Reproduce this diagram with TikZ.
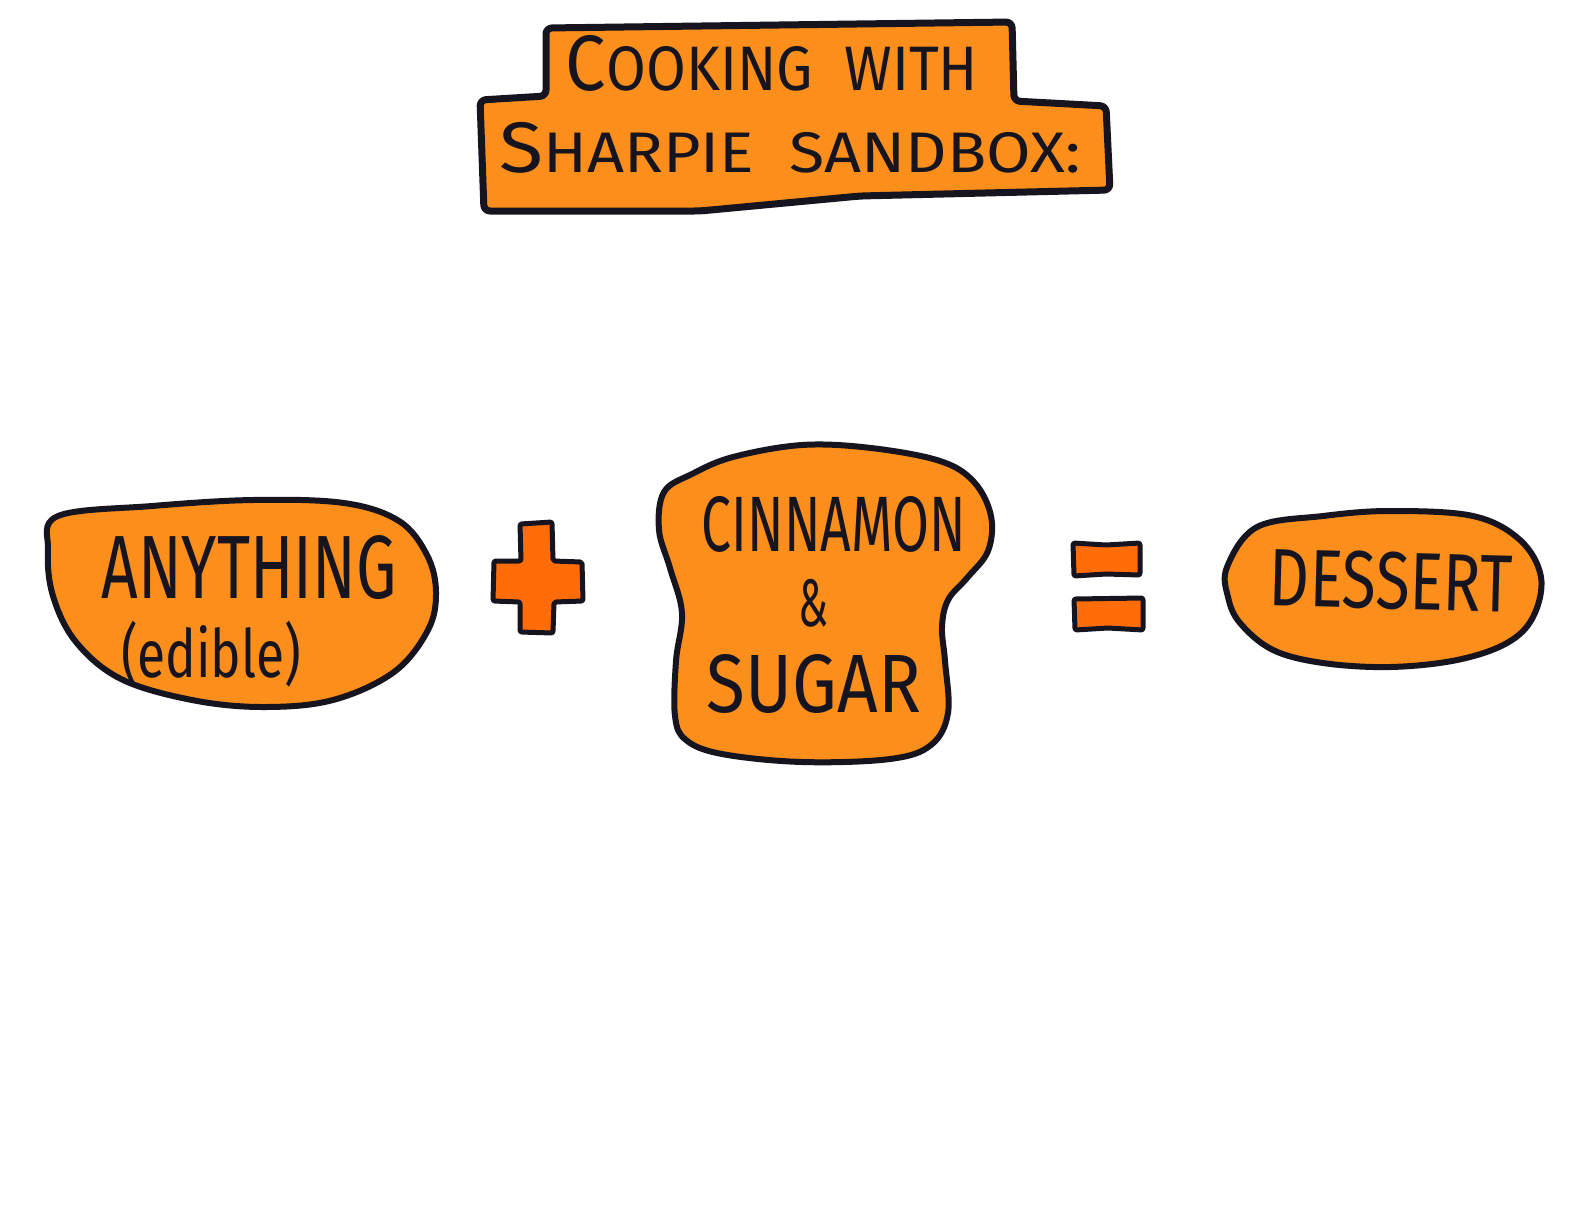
\documentclass[tikz,border=0pt]{standalone}
\usepackage{fontspec}
\setsansfont{Fira Sans}
\usepackage{graphicx}
\definecolor{blob}{RGB}{252,142,28}
\definecolor{sign}{RGB}{255,108,8}
\definecolor{ink}{RGB}{22,20,30}
\newcommand{\hand}[3]{\resizebox*{#1pt}{#2pt}{\sffamily #3}}

\begin{document}
\begin{tikzpicture}[x=1pt,y=-1pt]
        \tikzstyle{every node}=[inner sep=0pt, text=ink]
        \tikzstyle{blobline}=[draw=ink, line width=6pt, fill=blob, line join=round]
        \tikzstyle{signline}=[draw=ink, line width=5pt, fill=sign, line join=round, rounded corners=2pt]
        \useasboundingbox[fill=white] (0,0) rectangle (1584,1224);
        % title banner
        \draw[blobline, line width=7pt, rounded corners=6pt] (546,28) -- (1012,22) -- (1014,101) -- (1106,106) -- (1110,190) -- (860,196) -- (700,211) -- (484,211) -- (480,100) -- (546,96) -- cycle;
        \node (cooking) at (772,63) {\hand{412}{56}{C{\footnotesize OOKING\hspace{0.55em}WITH}}};
        \node (sharpie) at (790,148) {\hand{581}{51}{S{\footnotesize HARPIE\hspace{0.55em}SANDBOX:}}};
        % the sum
        \draw[blobline] plot[smooth cycle, tension=0.6] coordinates {(58,516) (152,506) (253,500) (344,503) (399,521) (427,555) (436,592) (428,630) (394,672) (333,700) (263,707) (192,700) (121,679) (76,642) (53,596) (48,550)};
        \node (anything) at (249,568) {\hand{295}{64}{ANYTHING}};
        \node (edible) at (211,654) {\hand{180}{66}{(edible)}};
        \draw[signline] (520,524) -- (552,522) -- (553,561) -- (582,562) -- (583,601) -- (554,602) -- (553,633) -- (520,632) -- (520,602) -- (493,601) -- (494,561) -- (521,561) -- cycle;
        \draw[blobline] plot[smooth cycle, tension=0.6] coordinates {(664,492) (692,474) (733,457) (802,445) (871,448) (940,461) (974,482) (991,516) (988,551) (967,578) (948,600) (942,627) (945,661) (948,713) (931,745) (890,759) (802,762) (722,754) (686,740) (675,716) (676,661) (682,613) (670,568) (659,530)};
        \node (cinnamon) at (834,524) {\hand{264}{56}{CINNAMON}};
        \node (and) at (813,603) {\hand{30}{48}{\&}};
        \node (sugar) at (814,684) {\hand{214}{59}{SUGAR}};
        \draw[signline] (1073,543) -- (1106,545) -- (1140,543) -- (1140,575) -- (1106,574) -- (1074,576) -- cycle;
        \draw[signline] (1074,599) -- (1143,598) -- (1143,630) -- (1108,628) -- (1075,630) -- cycle;
        \draw[blobline] plot[smooth cycle, tension=0.6] coordinates {(1227,567) (1257,527) (1323,516) (1390,511) (1473,516) (1520,540) (1541,577) (1533,617) (1507,643) (1457,660) (1390,667) (1323,663) (1273,650) (1240,623) (1228,597)};
        \node[rotate=-1.5] (dessert) at (1391,581) {\hand{243}{58}{DESSERT}};
    \end{tikzpicture}
\end{document}
